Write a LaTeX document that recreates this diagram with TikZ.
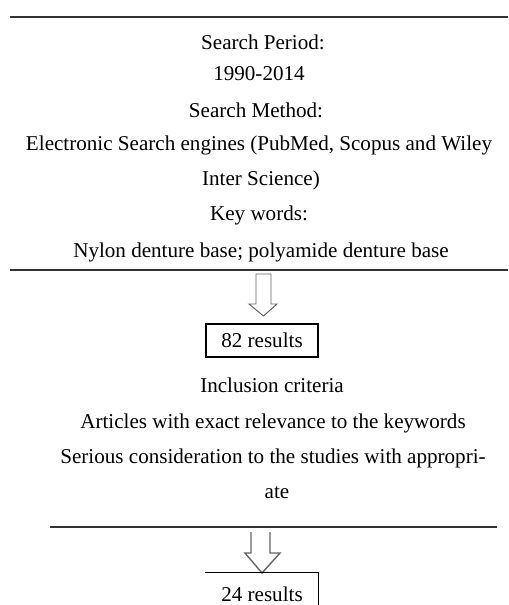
\documentclass[tikz,border=0pt]{standalone}
\usepackage{fontspec}
\setmainfont{Liberation Serif}
\usepackage{tikz}
\usetikzlibrary{positioning}

\tikzset{
  txt/.style={inner sep=0pt, anchor=center},
  rule/.style={line width=1.3pt, black!80},
  resbox/.style={draw, line width=0.9pt, minimum width=2.8cm, inner sep=0pt},
  blockarrow/.style={draw=black!60, line width=0.7pt}
}

\begin{document}
\begin{tikzpicture}[x=0.025cm, y=-0.025cm, font=\fontsize{15}{18}\selectfont]
        \useasboundingbox (0,0) rectangle (508,605);
        \clip (0,0) rectangle (508,605);
        % search block
        \draw[rule] (10,17) -- (508,17);
        \node[txt] (period) at (263,42) {Search Period:};
        \node[txt] (years) at (259,74) {1990-2014};
        \node[txt] (method) at (256,110) {Search Method:};
        \node[txt] (engines) at (259,145) {Electronic Search engines (PubMed, Scopus and Wiley};
        \node[txt] (engines2) at (261,180) {Inter Science)};
        \node[txt] (keys) at (259,215) {Key words:};
        \node[txt] (keywords) at (261,252) {Nylon denture base; polyamide denture base};
        \draw[rule] (10,270) -- (508,270);
        % first result
        \draw[blockarrow] (256,274) -- (271,274) -- (271,304) -- (277,304) -- (263.5,316)
              -- (249,304) -- (256,304) -- cycle;
        \node[resbox, minimum height=0.825cm] (res82) at (262,340.5) {82 results};
        % inclusion block
        \node[txt] (incl) at (272,385) {Inclusion criteria};
        \node[txt] (crit1) at (273,423) {Articles with exact relevance to the keywords};
        \node[txt] (crit2) at (273,458) {Serious consideration to the studies with appropri-};
        \node[txt] (crit3) at (277,493) {ate};
        \draw[rule] (50,527) -- (497,527);
        % second result, only top and right edge show
        \draw[blockarrow, line width=1pt] (251,532) -- (251,553) -- (245,553) -- (262,573)
              -- (280,553) -- (270,553) -- (270,532);
        \node[resbox, draw=none, minimum height=1.05cm] (res24) at (262,594) {24 results};
        \draw[line width=0.9pt] (res24.north west) -- (res24.north east) -- (res24.south east);
      \end{tikzpicture}
\end{document}
